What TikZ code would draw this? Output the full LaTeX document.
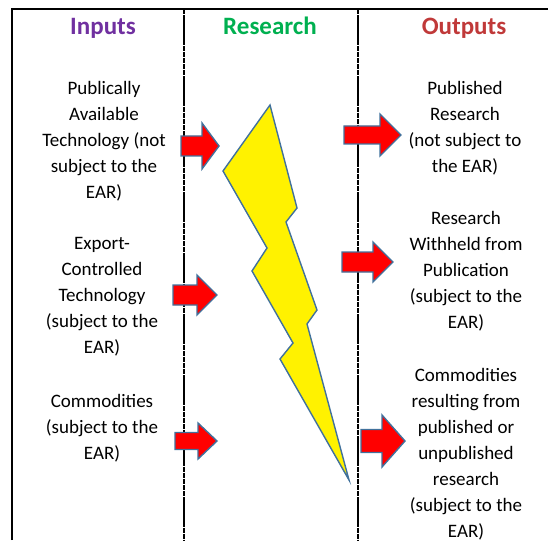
\documentclass[tikz,border=0pt]{standalone}
\usepackage{fontspec}
\setmainfont{Carlito}
\definecolor{inpurple}{RGB}{112,48,160}
\definecolor{resgreen}{RGB}{0,176,80}
\definecolor{outred}{RGB}{192,57,57}
\definecolor{edgeblue}{RGB}{65,113,156}
\tikzset{
  heading/.style={font=\fontsize{25}{28}\selectfont\bfseries,anchor=base},
  textblock/.style={align=center,inner sep=0pt,font=\fontsize{19}{26}\selectfont},
  blockarrow/.style={fill=red,draw=edgeblue,line width=1.4pt,line join=miter},
  divider/.style={line width=1.8pt,dash pattern=on 5.5pt off 0.6pt}
}
% red block arrow: tail x, head start x, tip x, centre y, body half, head half
\newcommand{\redarrow}[6]{%
  \draw[blockarrow] (#1,#4-#5) -- (#2,#4-#5) -- (#2,#4-#6) -- (#3,#4)
    -- (#2,#4+#6) -- (#2,#4+#5) -- (#1,#4+#5) -- cycle;}
\begin{document}
\begin{tikzpicture}[x=1pt,y=-1pt]
  \useasboundingbox (0,0) rectangle (548,540);
  % frame and column lines
  \draw[line width=2.2pt] (12,540) -- (12,9) -- (548,9);
  \draw[divider] (184,9) -- (184,540);
  \draw[divider] (358,9) -- (358,540);
  % headings
  \node[heading,text=inpurple] (hin) at (103,35) {Inputs};
  \node[heading,text=resgreen] (hres) at (270,35) {Research};
  \node[heading,text=outred] (hout) at (464,35) {Outputs};
  % inputs
  \node[textblock] (in1) at (104,141) {Publically\\Available\\Technology (not\\subject to the\\EAR)};
  \node[textblock] (in2) at (102,297) {Export-\\Controlled\\Technology\\(subject to the\\EAR)};
  \node[textblock] (in3) at (102,428) {Commodities\\(subject to the\\EAR)};
  % outputs
  \node[textblock] (out1) at (465,128) {Published\\Research\\(not subject to\\the EAR)};
  \node[textblock] (out2) at (466,271) {Research\\Withheld from\\Publication\\(subject to the\\EAR)};
  \node[textblock] (out3) at (466,454) {Commodities\\resulting from\\published or\\unpublished\\research\\(subject to the\\EAR)};
  % arrows
  \redarrow{181}{202}{219}{146}{10}{23}
  \redarrow{173}{197}{217}{295}{10}{20}
  \redarrow{175}{198}{217}{441}{8.5}{18}
  \redarrow{344}{380}{401}{135}{9}{21}
  \redarrow{342}{373}{393}{262}{10}{20}
  \redarrow{361}{382}{405}{441}{11.5}{26}
  % lightning bolt
  \draw[fill=yellow,draw=edgeblue,line width=1.4pt] (270,105) -- (223,171) -- (267,248)
    -- (252,271) -- (293,343) -- (280,359) -- (349,480) -- (307,324)
    -- (317,310) -- (286,222) -- (297,208) -- cycle;
\end{tikzpicture}
\end{document}
